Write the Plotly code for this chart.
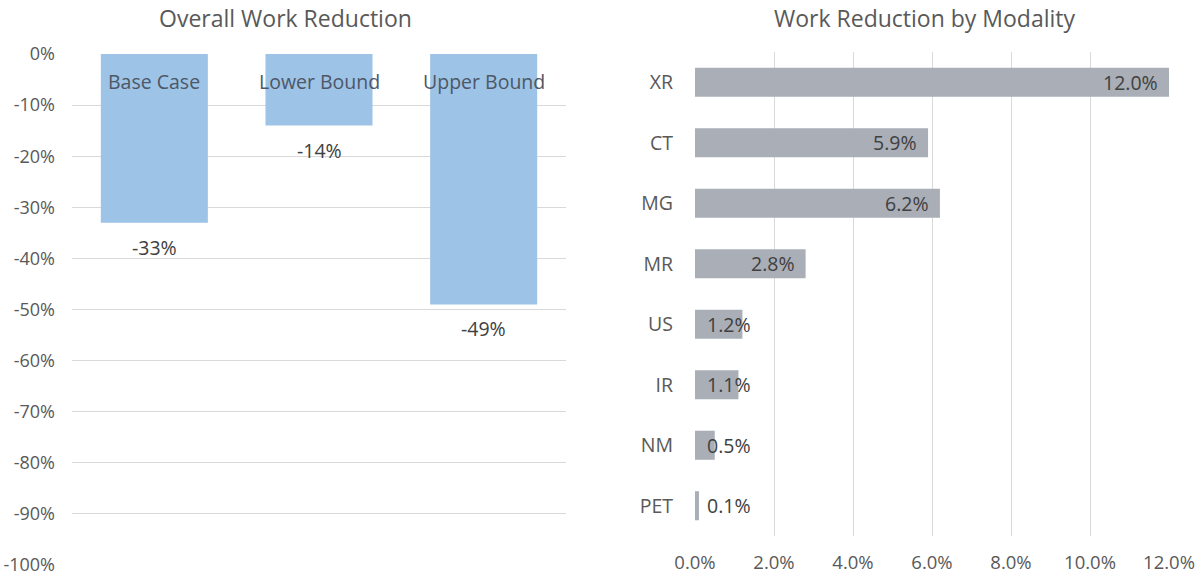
import plotly.graph_objects as go

# ---- data ----
scenarios = ["Base Case", "Lower Bound", "Upper Bound"]
overall_reduction = [-0.33, -0.14, -0.49]
overall_ticks = [0, -0.1, -0.2, -0.3, -0.4, -0.5, -0.6, -0.7, -0.8, -0.9, -1.0]
overall_ticktext = ["0%", "-10%", "-20%", "-30%", "-40%", "-50%", "-60%", "-70%", "-80%", "-90%", "-100%"]

modalities = ["XR", "CT", "MG", "MR", "US", "IR", "NM", "PET"]
modality_reduction = [0.120, 0.059, 0.062, 0.028, 0.012, 0.011, 0.005, 0.001]
modality_ticks = [0, 0.02, 0.04, 0.06, 0.08, 0.10, 0.12]

# ---- styles ----
W, H = 1200, 577
FONT = "Open Sans"
FS = 19.5
TICK_COLOR = "#595959"
LABEL_COLOR = "#404040"
CAT_COLOR = "#4d5766"
GRID = "#d9d9d9"
BLUE = "#9dc3e6"
GRAY = "#a9aeb7"

fig = go.Figure()

fig.add_trace(go.Bar(
    x=scenarios, y=overall_reduction, marker=dict(color=BLUE, line=dict(width=0)),
    xaxis="x", yaxis="y", hoverinfo="skip", showlegend=False,
))
fig.add_trace(go.Bar(
    x=modality_reduction, y=modalities, orientation="h",
    marker=dict(color=GRAY, line=dict(width=0)), width=0.48,
    xaxis="x2", yaxis="y2", hoverinfo="skip", showlegend=False,
))

annotations = []
# category labels inside the left bars, just under the 0% axis
for s in scenarios:
    annotations.append(dict(
        x=s, y=0, xref="x", yref="y", text=s, showarrow=False,
        yanchor="top", yshift=-12, font=dict(family=FONT, size=FS, color=CAT_COLOR),
    ))
# value labels below left bars
for s, v in zip(scenarios, overall_reduction):
    annotations.append(dict(
        x=s, y=v, xref="x", yref="y", text=f"{v:.0%}", showarrow=False,
        yanchor="top", yshift=-9, font=dict(family=FONT, size=FS, color=LABEL_COLOR),
    ))
# value labels on right bars
for m, v in zip(modalities, modality_reduction):
    if v >= 0.02:
        annotations.append(dict(
            x=v, y=m, xref="x2", yref="y2", text=f"{v:.1%}", showarrow=False,
            xanchor="right", xshift=-9, font=dict(family=FONT, size=FS, color=LABEL_COLOR),
        ))
    else:
        annotations.append(dict(
            x=0, y=m, xref="x2", yref="y2", text=f"{v:.1%}", showarrow=False,
            xanchor="left", xshift=10, font=dict(family=FONT, size=FS, color=LABEL_COLOR),
        ))
# titles
annotations.append(dict(
    x=285 / W, y=1, xref="paper", yref="paper", text="Overall Work Reduction",
    showarrow=False, xanchor="center", yanchor="top",
    font=dict(family=FONT, size=23, color=TICK_COLOR),
))
annotations.append(dict(
    x=925 / W, y=1, xref="paper", yref="paper", text="Work Reduction by Modality",
    showarrow=False, xanchor="center", yanchor="top",
    font=dict(family=FONT, size=23, color=TICK_COLOR),
))

fig.update_layout(
    width=W, height=H,
    margin=dict(l=0, r=0, t=0, b=0),
    paper_bgcolor="white", plot_bgcolor="white",
    bargap=0.35,
    showlegend=False,
    annotations=annotations,
    xaxis=dict(
        domain=[72 / W, 566 / W], anchor="y",
        type="category", categoryarray=scenarios,
        showticklabels=False, ticks="",
        showline=False, showgrid=False, zeroline=False, automargin=False,
    ),
    yaxis=dict(
        domain=[1 - 565 / H, 1 - 54 / H], anchor="x",
        range=[-1.0, 0], tickvals=overall_ticks, ticktext=overall_ticktext,
        tickfont=dict(family=FONT, size=18, color=TICK_COLOR),
        showgrid=True, gridcolor=GRID, gridwidth=1, zeroline=False,
        showline=False, ticks="", ticklabelstandoff=16, automargin=False,
        ticklabeloverflow="allow",
    ),
    xaxis2=dict(
        domain=[695 / W, 1169 / W], anchor="y2",
        range=[0, 0.12], tickvals=modality_ticks, tickformat=".1%",
        tickfont=dict(family=FONT, size=18.5, color=TICK_COLOR),
        showgrid=True, gridcolor=GRID, gridwidth=1, zeroline=False,
        showline=False, ticks="", ticklabelstandoff=13, automargin=False,
        ticklabeloverflow="allow",
    ),
    yaxis2=dict(
        domain=[1 - 536 / H, 1 - 52 / H], anchor="x2",
        type="category", categoryarray=modalities, autorange="reversed",
        tickfont=dict(family=FONT, size=FS, color=TICK_COLOR),
        showgrid=False, zeroline=False, showline=False, ticks="",
        ticklabelstandoff=21, automargin=False,
    ),
)

fig.write_html("out.html")
